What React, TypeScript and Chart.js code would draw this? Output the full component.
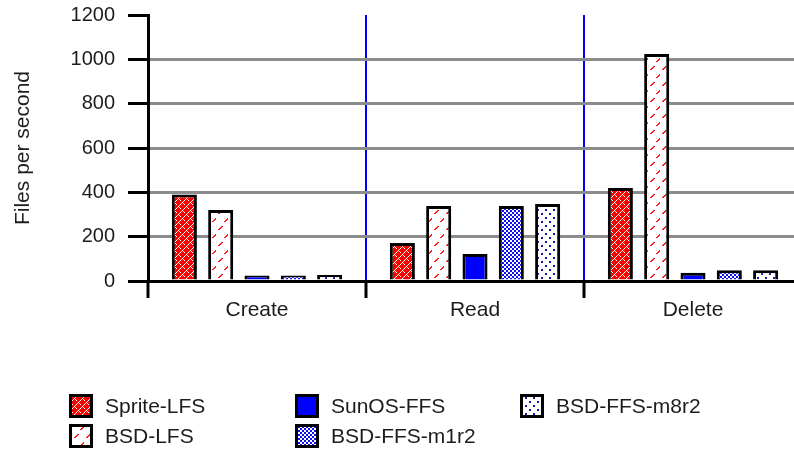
import React, { useEffect, useRef } from "react";
import { Chart, registerables } from "chart.js";

Chart.register(...registerables);

const categories = ["Create", "Read", "Delete"];
const seriesNames = ["Sprite-LFS", "BSD-LFS", "SunOS-FFS", "BSD-FFS-m1r2", "BSD-FFS-m8r2"];
const spriteLFS = [390, 171, 420];
const bsdLFS = [320, 338, 1024];
const sunosFFS = [25, 122, 37];
const bsdFFSm1r2 = [25, 338, 48];
const bsdFFSm8r2 = [27, 347, 48];
const yTickValues = [0, 200, 400, 600, 800, 1000, 1200];
const yTitle = "Files per second";

const FONT = "'Liberation Sans', Arial, sans-serif";
const TEXT = "#1c1c1c";

function tile(w: number, h: number, bg: string, fg: string, on: (x: number, y: number) => boolean) {
  const c = document.createElement("canvas");
  c.width = w;
  c.height = h;
  const ctx = c.getContext("2d")!;
  ctx.fillStyle = bg;
  ctx.fillRect(0, 0, w, h);
  ctx.fillStyle = fg;
  for (let y = 0; y < h; y++) for (let x = 0; x < w; x++) if (on(x, y)) ctx.fillRect(x, y, 1, 1);
  const p = document.createElement("canvas").getContext("2d")!.createPattern(c, "repeat");
  return p as CanvasPattern;
}

function makePatterns() {
  const sprite = tile(8, 8, "#ff0000", "#ffffff", (x, y) =>
    (x + y) % 8 === 0 || ((x - y + 16) % 8 === 4 && (x + y) % 8 < 5));
  const dashA = (x: number, y: number) => x + y === 7 && x >= 2 && x <= 5;
  const dashB = (x: number, y: number) => x + y === 21 && x >= 8 && x <= 11;
  const bsd = tile(12, 16, "#ffffff", "#ff1a1a", (x, y) =>
    dashA(x, y) || dashA(x - 1, y) || dashB(x, y) || dashB(x - 1, y));
  const m1 = tile(4, 4, "#ffffff", "#1010ee", (x, y) => (Math.floor(x / 2) + Math.floor(y / 2)) % 2 === 0);
  const m8 = tile(8, 8, "#ffffff", "#1a1aaa", (x, y) =>
    ((x === 1 || x === 2) && (y === 1 || y === 2)) || ((x === 5 || x === 6) && (y === 5 || y === 6)));
  return [sprite, bsd, "#0000ff", m1, m8] as (CanvasPattern | string)[];
}

export default function App() {
  const ref = useRef<HTMLCanvasElement | null>(null);

  useEffect(() => {
    const canvas = ref.current!;
    const fills = makePatterns();
    const seriesData = [spriteLFS, bsdLFS, sunosFFS, bsdFFSm1r2, bsdFFSm8r2];

    const legendPlugin = {
      id: "customLegend",
      afterDraw(chart: any) {
        const ctx = chart.ctx as CanvasRenderingContext2D;
        const cols = [69, 295, 520];
        const rows = [406, 436];
        ctx.save();
        seriesNames.forEach((name, i) => {
          const col = Math.floor(i / 2);
          const row = i % 2;
          const x = cols[col];
          const cy = rows[row];
          const s = 24;
          ctx.fillStyle = fills[i] as any;
          ctx.fillRect(x, cy - s / 2, s, s);
          ctx.strokeStyle = "#000";
          ctx.lineWidth = 3;
          ctx.strokeRect(x + 1.5, cy - s / 2 + 1.5, s - 3, s - 3);
          ctx.fillStyle = TEXT;
          ctx.font = `21px ${FONT}`;
          ctx.textBaseline = "middle";
          ctx.textAlign = "left";
          ctx.fillText(name, x + 36, cy + 1);
        });
        ctx.restore();
      },
    };

    const chart = new Chart(canvas, {
      type: "bar",
      data: {
        labels: categories,
        datasets: seriesNames.map((name, i) => ({
          label: name,
          data: seriesData[i],
          backgroundColor: fills[i] as any,
          borderColor: "#000",
          borderWidth: 3,
          categoryPercentage: 0.833,
          barPercentage: 0.69,
        })),
      },
      options: {
        responsive: false,
        animation: false,
        events: [],
        layout: { padding: { left: 0, top: 15, right: 8, bottom: 0 } },
        plugins: {
          legend: { display: false },
          tooltip: { enabled: false },
        },
        scales: {
          x: {
            type: "category",
            grid: {
              offset: true,
              color: (c: any) => (c.index === 0 ? "#000" : "#0000ff"),
              lineWidth: 2,
              tickColor: "#000",
              tickWidth: 3,
              tickLength: 17,
              drawOnChartArea: true,
            },
            border: { color: "#000", width: 3 },
            ticks: { color: TEXT, font: { family: FONT, size: 21 }, padding: 0, maxRotation: 0 },
            afterFit: (scale: any) => {
              scale.height = 455 - 281;
              scale.paddingLeft = 0;
              scale.paddingRight = 0;
            },
          },
          y: {
            min: 0,
            max: 1200,
            afterBuildTicks: (scale: any) => {
              scale.ticks = yTickValues.map((v) => ({ value: v }));
            },
            grid: {
              color: (c: any) => (c.tick && c.tick.value === 1200 ? "rgba(0,0,0,0)" : "#8c8c8c"),
              lineWidth: 3,
              tickColor: "#000",
              tickWidth: 3,
              tickLength: 20,
            },
            border: { color: "#000", width: 3 },
            ticks: {
              color: TEXT,
              font: { family: FONT, size: 20 },
              padding: 13,
              callback: (v: any) => String(v),
            },
            title: {
              display: true,
              text: yTitle,
              color: TEXT,
              font: { family: FONT, size: 21 },
              padding: { top: 11, bottom: 0 },
            },
            afterFit: (scale: any) => {
              scale.width = 148;
              scale.paddingTop = 0;
              scale.paddingBottom = 0;
            },
          },
        },
      },
      plugins: [legendPlugin],
    } as any);

    return () => chart.destroy();
  }, []);

  return (
    <div
      style={{
        position: "absolute",
        left: 0,
        top: 0,
        width: 794,
        height: 455,
        overflow: "hidden",
        background: "#fff",
      }}
    >
      <canvas ref={ref} width={810} height={455} style={{ display: "block", width: 810, height: 455 }} />
    </div>
  );
}
